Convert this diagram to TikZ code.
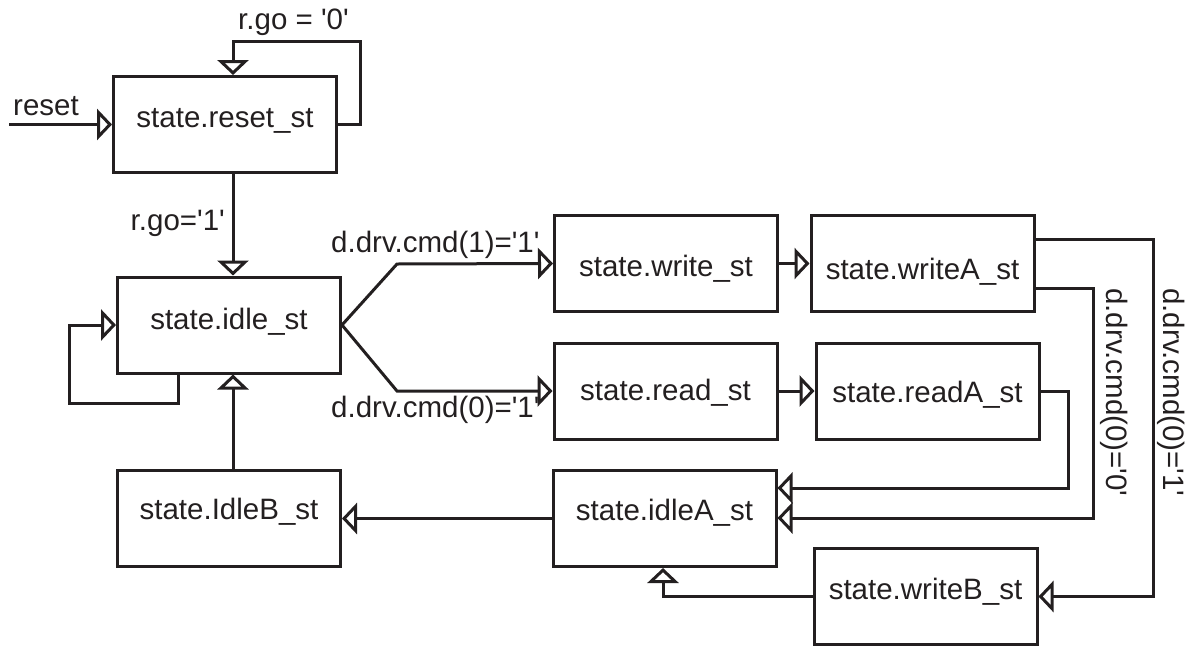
\documentclass[tikz,border=0pt]{standalone}
\usepackage{fontspec}
\setmainfont{Liberation Sans}
\usetikzlibrary{arrows.meta}
\definecolor{ink}{RGB}{35,31,32}
\newcommand{\sq}{\textquotesingle}
\begin{document}
\begin{tikzpicture}[x=1pt,y=-1pt,
  every node/.style={font=\fontsize{29.5}{35}\selectfont, text=ink},
  box/.style={draw=ink, line width=3pt, minimum width=223pt, minimum height=96pt,
    inner sep=0pt, text depth=0pt},
  lbl/.style={inner sep=0pt},
  arr/.style={draw=ink, line width=3pt, -{Triangle[open,length=15pt,width=31pt]}}]
\useasboundingbox (0,0) rectangle (1195,646);
% boxes
\node[box, text height=5pt]  (reset)  at (225,124.5) {state.reset\_st};
\node[box, text height=8pt]  (idle)   at (229,325)   {state.idle\_st};
\node[box, text height=25pt] (write)  at (666,263.5) {state.write\_st};
\node[box, text height=18pt] (read)   at (665.5,391) {state.read\_st};
\node[box, text height=31pt] (writeA) at (922.5,263.5) {state.writeA\_st};
\node[box, text height=22pt] (readA)  at (927.5,391) {state.readA\_st};
\node[box, text height=1pt]  (IdleB)  at (229,518.5) {state.IdleB\_st};
\node[box, text height=3pt]  (idleA)  at (664.5,518.5) {state.idleA\_st};
\node[box, text height=5pt]  (writeB) at (925.5,596.5) {state.writeB\_st};
% labels
\node[lbl, anchor=base west] (lreset) at (13,115) {reset};
\node[lbl, anchor=base west] (lgo0) at (238,29) {r.go = \sq0\sq};
\node[lbl, anchor=base east] (lgo1) at (225,230) {r.go=\sq1\sq};
\node[lbl, anchor=base west] (lc11) at (331,252) {d.drv.cmd(1)=\sq1\sq};
\node[lbl, anchor=base west] (lc01) at (331,417) {d.drv.cmd(0)=\sq1\sq};
\node[lbl, anchor=base west, rotate=-90] (lc00v) at (1106,288) {d.drv.cmd(0)=\sq0\sq};
\node[lbl, anchor=base west, rotate=-90] (lc01v) at (1163,288) {d.drv.cmd(0)=\sq1\sq};
% connectors
\coordinate (rin) at (9,124.5);
\draw[arr] (rin) -- (reset.west);
\draw[arr] (reset.east) -- (360,124.5) -- (360,41) -- (233,41) -- (reset.north -| 233,0);
\draw[arr] (reset.south -| 233,0) -- (idle.north -| 233,0);
\draw[arr] (idle.south -| 178,0) -- (178,403) -- (69,403) -- (69,325) -- (idle.west);
\draw[arr] (idle.east) -- (397,264) -- (write.west);
\draw[arr] (idle.east) -- (397,391) -- (read.west);
\draw[arr] (write.east) -- (writeA.west);
\draw[arr] (read.east) -- (readA.west);
\draw[arr] (writeA.east |- 0,239) -- (1153,239) -- (1153,596.5) -- (writeB.east);
\draw[arr] (writeA.east |- 0,288) -- (1093,288) -- (1093,518) -- (idleA.east |- 0,518);
\draw[arr] (readA.east) -- (1068,391) -- (1068,488) -- (idleA.east |- 0,488);
\draw[arr] (writeB.west) -- (663,596.5) -- (idleA.south -| 663,0);
\draw[arr] (idleA.west) -- (IdleB.east);
\draw[arr] (IdleB.north -| 233,0) -- (idle.south -| 233,0);
\end{tikzpicture}
\end{document}
